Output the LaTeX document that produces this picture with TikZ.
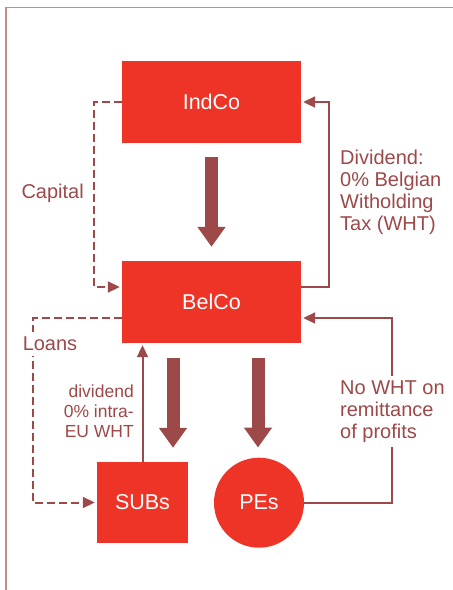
\documentclass[tikz,border=0pt]{standalone}
\usepackage{fontspec}
\setmainfont{Liberation Sans}
\usetikzlibrary{arrows.meta}

\definecolor{boxred}{RGB}{238,52,38}
\definecolor{flowbrown}{RGB}{157,73,73}
\definecolor{framepink}{RGB}{201,137,137}

\tikzset{
	entity/.style={fill=boxred, text=white, font=\fontsize{21.5}{25}\selectfont, inner sep=0pt},
	flow/.style={draw=flowbrown, line width=2pt, -{Triangle[length=12pt,width=11pt]}, shorten >=2pt},
	dashflow/.style={flow, dash pattern=on 8pt off 4pt},
	bigflow/.style={draw=flowbrown, line width=13pt, -{Triangle[length=20pt,width=27pt]}},
	note/.style={text=flowbrown, fill=white, inner sep=5pt, font=\fontsize{20}{22}\selectfont},
	smallnote/.style={note, font=\fontsize{17.5}{20}\selectfont}
}

\begin{document}
\begin{tikzpicture}[x=1pt,y=-1pt]
	\useasboundingbox (0,0) rectangle (453,590);

	% frame round the figure
	\draw[framepink, line width=1.5pt] (6,590) -- (6,7.5) -- (453,7.5);

	% the companies
	\node[entity, minimum width=179pt, minimum height=82pt] (indco) at (211.5,102) {IndCo};
	\node[entity, minimum width=179pt, minimum height=82pt] (belco) at (211.5,302) {BelCo};
	\node[entity, minimum width=91pt, minimum height=81pt]  (subs)  at (142.5,502.5) {SUBs};
	\node[entity, circle, minimum size=90pt]                 (pes)   at (259,502.7) {PEs};

	% big arrows downwards
	\draw[bigflow, shorten <=14pt, shorten >=14pt] (indco.south) -- (belco.north);
	\draw[bigflow, shorten <=15pt, shorten >=14pt] ([xshift=-38.5pt]belco.south) -- ([xshift=-38.5pt]belco.south |- subs.north);
	\draw[bigflow, shorten <=15pt, shorten >=10pt] ([xshift=46.5pt]belco.south) -- ([xshift=46.5pt]belco.south |- pes.north);

	% capital and dividend between IndCo and BelCo
	\draw[dashflow] (indco.west) -- ++(-28,0) |- ([yshift=15pt]belco.west);
	\draw[flow] ([yshift=15pt]belco.east) -- ++(28,0) |- (indco.east);

	% loans, dividend and profits between BelCo and below
	\draw[dashflow] ([yshift=-16pt]belco.west) -- ++(-89,0) |- (subs.west);
	\draw[flow] (subs.north) -- (subs.north |- belco.south);
	\draw[flow] (pes.east) -- ++(88,0) |- ([yshift=-16pt]belco.east);

	% labels
	\node[note, anchor=east] (capital) at (89,193) {Capital};
	\node[note, anchor=west, align=left] (dividend) at (335,192.5) {Dividend:\\0\% Belgian\\Witholding\\Tax (WHT)};
	\node[note] (loans) at (50,344) {Loans};
	\node[smallnote, anchor=east, align=right] (intraeu) at (139,411.5) {dividend\\0\% intra-\\EU WHT};
	\node[note, anchor=west, align=left] (nowht) at (335,411.5) {No WHT on\\remittance\\of profits};
\end{tikzpicture}
\end{document}
